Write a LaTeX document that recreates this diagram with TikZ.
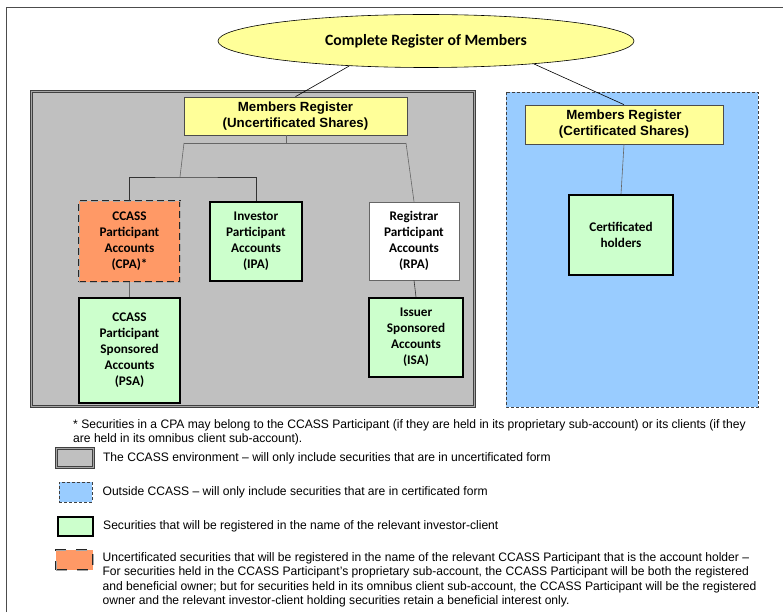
\documentclass[tikz,border=0pt]{standalone}
\usepackage{fontspec}
\setmainfont{Liberation Sans}
\newfontfamily\calibrifont{Carlito}
\newfontfamily\narrowfont[FakeStretch=0.983]{Liberation Sans}
\usetikzlibrary{shapes.geometric}
\usetikzlibrary{positioning}
\usetikzlibrary{calc}

\definecolor{regyellow}{HTML}{FFFF99}
\definecolor{acctgreen}{HTML}{CCFFCC}
\definecolor{cpaorange}{HTML}{FF9966}
\definecolor{outblue}{HTML}{99CCFF}
\definecolor{envgray}{HTML}{C0C0C0}

\tikzset{
  regbox/.style={rectangle, draw=black!70, line width=0.7pt, fill=regyellow, align=center, inner sep=0pt,
    font=\fontsize{13.3}{16}\selectfont\bfseries},
  acctbox/.style={rectangle, draw=black, line width=2pt, fill=acctgreen, align=center, inner sep=0pt,
    font=\calibrifont\fontsize{13.2}{16}\selectfont\bfseries},
  rpabox/.style={acctbox, draw=black!60, line width=0.8pt, fill=white},
  cpabox/.style={acctbox, fill=cpaorange, draw=black!85, line width=0.8pt, double=black!35,
    double distance=0.9pt, dash pattern=on 7pt off 4pt},
  envbox/.style={draw=black!75, line width=0.8pt, double=black!35, double distance=1.5pt, fill=envgray},
  outbox/.style={draw=black!75, line width=0.8pt, dash pattern=on 3pt off 2pt, fill=outblue},
  treeline/.style={draw=black!60, line width=0.6pt},
  keytext/.style={font=\narrowfont\fontsize{12.3}{14.5}\selectfont, align=left, inner sep=0pt},
}

\begin{document}
\begin{tikzpicture}[x=1pt, y=-1pt]
\useasboundingbox (0,0) rectangle (783,612);

% page frame
\draw[black!70, line width=0.8pt] (6,612) -- (6,7) -- (783,7);

% CCASS environment and outside CCASS
\draw[envbox] (31.5,91.5) rectangle (474.5,406.5);
\draw[outbox] (506,92) rectangle (758,407);

\node[ellipse, draw=black, line width=0.6pt, fill=regyellow, minimum width=416pt, minimum height=53pt,
  inner sep=0pt, font=\calibrifont\fontsize{15.7}{18}\selectfont\bfseries] (crm) at (426,41)
  {Complete Register of Members};

\node[regbox, minimum width=223pt, minimum height=38pt] (mru) at (295.5,116)
  {Members Register\\(Uncertificated Shares)};
\node[regbox, minimum width=198pt, minimum height=39pt] (mrc) at (624,124.5)
  {Members Register\\(Certificated Shares)};

\node[cpabox, minimum width=101pt, minimum height=81pt] (cpa) at (129.5,241.5)
  {CCASS\\Participant\\Accounts\\(CPA)*};
\node[acctbox, minimum width=92pt, minimum height=79pt] (ipa) at (256,241.5)
  {Investor\\Participant\\Accounts\\(IPA)};
\node[rpabox, minimum width=90pt, minimum height=78pt] (rpa) at (414,241)
  {Registrar\\Participant\\Accounts\\(RPA)};
\node[acctbox, minimum width=101pt, minimum height=105pt] (psa) at (129.5,350.5)
  {CCASS\\Participant\\Sponsored\\Accounts\\(PSA)};
\node[acctbox, minimum width=94pt, minimum height=79pt] (isa) at (416,337.5)
  {Issuer\\Sponsored\\Accounts\\(ISA)};
\node[acctbox, minimum width=104pt, minimum height=80pt] (cert) at (621,235)
  {Certificated\\holders};

% links from the register
\draw[black, line width=0.6pt] (crm.198) -- (mru.north);
\draw[black, line width=0.6pt] (crm.-12) -- (mrc.north);

\coordinate (drop) at (286,143);
\coordinate (uL) at (184,143);
\coordinate (uR) at (406,143);
\coordinate (jL) at (180,177);
\draw[treeline] (mru.south -| drop) -- (drop);
\draw[treeline] (uL) -- (uR);
\draw[treeline] (uL) -- (jL);
\draw[treeline] (uR) -- (rpa.north);
\draw[treeline, draw=black!80] (cpa.north) |- (jL) -| (ipa.north);
\draw[treeline] (cpa.south) -- (psa.north);
\draw[treeline, draw=black!80] (rpa.south) -- (isa.north);
\draw[treeline] (mrc.south) -- (cert.north);

% key
\node[keytext, anchor=north west] (note) at (73,419)
  {* Securities in a CPA may belong to the CCASS Participant (if they are held in its proprietary sub-account) or its clients (if they\\
   are held in its omnibus client sub-account).};

\node[envbox, minimum width=37pt, minimum height=19pt, inner sep=0pt] (keyenv) at (75,458) {};
\node[keytext, right=9pt of keyenv] (txtenv)
  {The CCASS environment – will only include securities that are in uncertificated form};

\node[outbox, minimum width=33pt, minimum height=20pt, inner sep=0pt] (keyout) at (75.5,492) {};
\node[keytext, right=10pt of keyout] (txtout)
  {Outside CCASS – will only include securities that are in certificated form};

\node[acctbox, minimum width=35pt, minimum height=19pt] (keygreen) at (75.5,526.5) {};
\node[keytext, right=9pt of keygreen] (txtgreen)
  {Securities that will be registered in the name of the relevant investor-client};

\node[cpabox, dash pattern=on 11pt off 10pt, minimum width=37pt, minimum height=20pt] (keycpa) at (74.5,560) {};
\node[keytext, anchor=north west] (txtcpa) at ($(keycpa.north east)+(9,2.5)$)
  {Uncertificated securities that will be registered in the name of the relevant CCASS Participant that is the account holder –\\
   For securities held in the CCASS Participant’s proprietary sub-account, the CCASS Participant will be both the registered\\
   and beneficial owner; but for securities held in its omnibus client sub-account, the CCASS Participant will be the registered\\
   owner and the relevant investor-client holding securities retain a beneficial interest only.};
\end{tikzpicture}
\end{document}
